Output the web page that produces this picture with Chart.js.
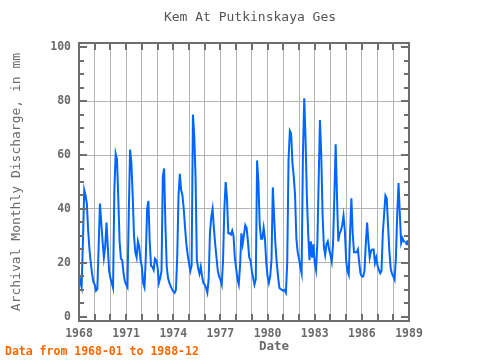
<!DOCTYPE html>
<html>
<head>
<meta charset="utf-8">
<script src="https://cdn.jsdelivr.net/npm/chart.js@4.4.1/dist/chart.umd.min.js"></script>
<style>
  html, body { margin: 0; padding: 0; background: #fff; }
  #chart { display: block; }
</style>
</head>
<body>
<canvas id="chart" width="480" height="360"></canvas>
<script>
// === Data: Kem At Putkinskaya Ges, monthly discharge (mm), 1968-01 .. 1988-12 ===
const startYear = 1968;
const discharge = [
  16, 13, 11, 28, 47, 45, 42, 32, 25, 20, 16, 13,             // 1968
  12, 9.7, 10.3, 26, 42, 35, 28, 22, 26, 35, 26, 17,          // 1969
  14.4, 12.6, 10.8, 47, 60.5, 58.5, 44, 28, 21.6, 21, 16.2, 13.2, // 1970
  12, 11, 38, 62, 57, 45, 30, 24, 22, 28, 26, 21,             // 1971
  18.6, 12.6, 11, 22, 40, 43, 28, 19, 18.6, 17.4, 21.6, 21,   // 1972
  18.6, 12.6, 14.4, 17, 52, 55, 34, 18.6, 14.4, 12.6, 11.4, 10.3, // 1973
  9.5, 9, 10, 22, 45, 53, 47, 45, 40, 33, 27, 23,             // 1974
  20, 17, 19, 75, 67, 52, 21, 18, 16, 18.6, 15, 12.6,         // 1975
  12, 10.8, 9, 14, 31, 37, 40, 33, 27, 22, 17, 15,            // 1976
  13.8, 12, 21, 40, 50, 44, 31, 31, 30.5, 32, 30, 22,         // 1977
  18, 14, 12, 19, 31, 27, 30.5, 34, 33, 28, 22, 21,           // 1978
  17, 14.5, 12, 14, 58, 50, 34, 29, 29, 33, 29, 20,           // 1979
  15, 12.6, 15, 21, 48, 37, 27, 20, 15, 10.8, 10.3, 10,       // 1980
  9.7, 10, 9, 20, 58, 69, 68, 57, 52, 45, 29, 24,             // 1981
  21.6, 18.6, 16.2, 60, 81, 66, 45, 31, 21, 28, 22, 27,       // 1982
  20, 17.4, 27, 50, 73, 60, 38, 26, 23, 27, 28, 25,           // 1983
  23, 20.5, 27, 45, 64, 45, 28, 31, 32, 34, 37.5, 32,         // 1984
  21, 17, 15.6, 31, 44, 31, 24, 24, 24, 25, 20, 16,           // 1985
  15, 15, 17, 27, 35, 28, 22, 24.5, 25, 25, 20, 22,           // 1986
  19, 17.4, 16.2, 17, 31, 38, 45, 44, 34, 24.5, 18, 16,       // 1987
  15, 13.8, 22, 38, 49.6, 38, 27.5, 29.2, 28, 28, null, 27.5  // 1988
];
const yearLabels = [1968, 1971, 1974, 1977, 1980, 1983, 1986, 1989];
const yTickValues = [0, 20, 40, 60, 80, 100];

const titleText = "Kem At Putkinskaya Ges";
const yTitleText = "Archival Monthly Discharge, in mm";
const xTitleText = "Date";
const footerText = "Data from 1968-01 to 1988-12";

// month index -> decimal year
const points = discharge.map((v, i) => ({ x: startYear + i / 12, y: v }));

const MONO = "'DejaVu Sans Mono', 'Liberation Mono', monospace";
const AXIS_GRAY = "#6e6e6e";
const LABEL_GRAY = "#6a6a6a";

// frame with inward ticks + free text
const framePlugin = {
  id: "frame",
  afterDraw(chart) {
    const { ctx, chartArea: a, scales: { x, y } } = chart;
    ctx.save();
    ctx.strokeStyle = AXIS_GRAY;
    ctx.lineWidth = 2;

    // y ticks, every 5, longer on multiples of 20
    for (let v = 0; v <= 100; v += 5) {
      const py = Math.round(y.getPixelForValue(v));
      const len = v % 20 === 0 ? 8 : 5;
      ctx.beginPath();
      ctx.moveTo(a.left, py); ctx.lineTo(a.left + len, py);
      ctx.moveTo(a.right, py); ctx.lineTo(a.right - len, py);
      ctx.stroke();
    }
    // x ticks, every year
    for (let yr = 1968; yr <= 1989; yr++) {
      const px = Math.round(x.getPixelForValue(yr));
      ctx.beginPath();
      ctx.moveTo(px, a.top); ctx.lineTo(px, a.top + 7);
      ctx.moveTo(px, a.bottom); ctx.lineTo(px, a.bottom - 7);
      ctx.stroke();
    }
    ctx.strokeRect(a.left, a.top, a.right - a.left, a.bottom - a.top);

    // texts
    ctx.textBaseline = "middle";
    ctx.fillStyle = "#555";
    ctx.font = "13px " + MONO;
    ctx.textAlign = "center";
    ctx.fillText(titleText, 250, 18);

    ctx.fillStyle = LABEL_GRAY;
    ctx.font = "bold 12.5px " + MONO;
    ctx.fillText(xTitleText, 274, 347);

    ctx.save();
    ctx.translate(17, (a.top + a.bottom) / 2);
    ctx.rotate(-Math.PI / 2);
    ctx.font = "13px " + MONO;
    ctx.fillText(yTitleText, 0, 0);
    ctx.restore();

    ctx.fillStyle = "#ff6600";
    ctx.font = "bold 11.5px " + MONO;
    ctx.textAlign = "left";
    ctx.fillText(footerText, 5, 352);
    ctx.restore();
  }
};

new Chart(document.getElementById("chart"), {
  type: "line",
  data: {
    datasets: [{
      label: "Discharge",
      data: points,
      borderColor: "#0066ff",
      backgroundColor: "#0066ff",
      borderWidth: 2,
      tension: 0,
      spanGaps: false,
      pointRadius: ctx => {
        const d = ctx.dataset.data, i = ctx.dataIndex;
        const prev = d[i - 1], next = d[i + 1];
        const isolated = (!prev || prev.y == null) && (!next || next.y == null);
        return isolated ? 1.6 : 0;
      },
      pointHoverRadius: 0
    }]
  },
  options: {
    responsive: false,
    animation: false,
    layout: { padding: { left: 0, top: 43, right: 71, bottom: 0 } },
    plugins: {
      legend: { display: false },
      title: { display: false },
      tooltip: { enabled: false }
    },
    scales: {
      x: {
        type: "linear",
        min: 1968,
        max: 1989,
        afterFit: s => { s.height = 39; },
        border: { display: false },
        grid: { color: "#b4b4b4", lineWidth: 1, drawTicks: false },
        ticks: {
          stepSize: 1,
          autoSkip: false,
          maxRotation: 0,
          padding: 6,
          color: LABEL_GRAY,
          font: { family: MONO, size: 11.5, weight: "bold" },
          callback: v => yearLabels.includes(v) ? String(v) : ""
        }
      },
      y: {
        min: -1.5,
        max: 101.5,
        afterFit: s => { s.width = 79; },
        afterBuildTicks: s => { s.ticks = yTickValues.map(v => ({ value: v })); },
        border: { display: false },
        grid: {
          drawTicks: false,
          lineWidth: 1,
          color: c => (c.tick && (c.tick.value === 0 || c.tick.value === 100)) ? "rgba(0,0,0,0)" : "#b4b4b4"
        },
        ticks: {
          padding: 8,
          color: LABEL_GRAY,
          font: { family: MONO, size: 11.5, weight: "bold" }
        }
      }
    }
  },
  plugins: [framePlugin]
});
</script>
</body>
</html>
